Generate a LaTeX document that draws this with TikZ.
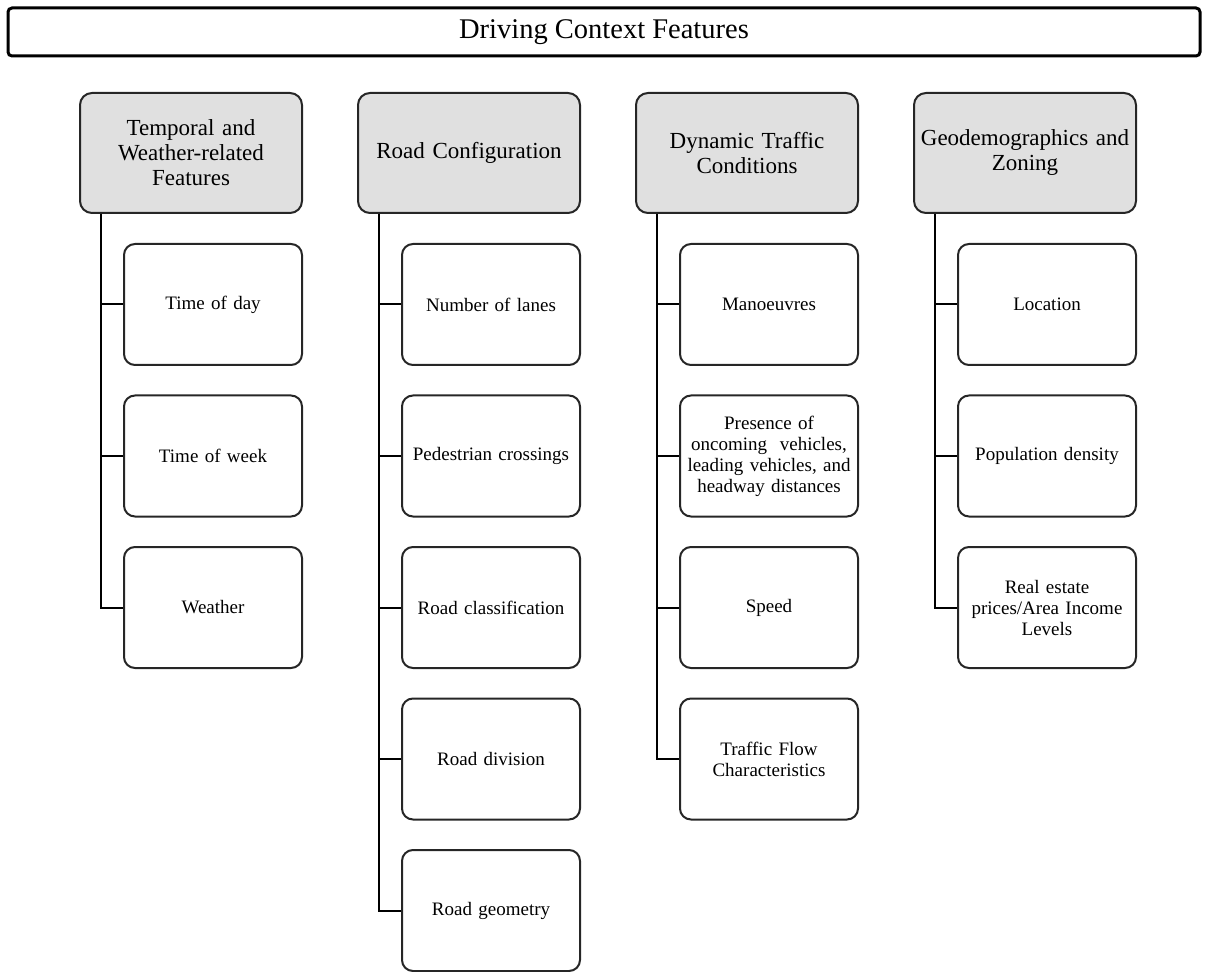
\documentclass[tikz,border=0pt]{standalone}
\usepackage{fontspec}
\setmainfont{Liberation Serif}
\begin{document}
\begin{tikzpicture}[x=0.5pt,y=-0.5pt,
  titlebox/.style={draw=black,line width=1.5pt,rounded corners=2pt,inner sep=0pt,
    minimum width=596pt,minimum height=24pt,font=\fontsize{14.25}{16}\selectfont},
  headbox/.style={draw=black!85,fill=black!12,line width=1pt,rounded corners=6pt,inner sep=0pt,
    minimum width=111pt,minimum height=60pt,align=center,text width=105pt,
    font=\fontsize{11.5}{12.5}\selectfont},
  leafbox/.style={draw=black!85,line width=1pt,rounded corners=5.5pt,inner sep=0pt,
    minimum width=89pt,minimum height=60.5pt,align=center,text width=85pt,
    font=\fontsize{9.5}{10.5}\selectfont},
  link/.style={draw=black,line width=1pt}]
\useasboundingbox (0,0) rectangle (1208,972);

\node[titlebox] (title) at (604,32) {Driving Context Features};

% headers
\node[headbox] (h1) at (191,153) {Temporal and\\Weather-related\\Features};
\node[headbox] (h2) at (469,153) {Road Configuration};
\node[headbox] (h3) at (747,153) {Dynamic Traffic\\Conditions};
\node[headbox] (h4) at (1025,153) {Geodemographics and\\Zoning};

% column 1
\node[leafbox] (a1) at (213,304.5) {Time of day};
\node[leafbox] (a2) at (213,456) {Time of week};
\node[leafbox] (a3) at (213,607.5) {Weather};

% column 2
\node[leafbox] (b1) at (491,304.5) {Number of lanes};
\node[leafbox] (b2) at (491,456) {Pedestrian crossings};
\node[leafbox] (b3) at (491,607.5) {Road classification};
\node[leafbox] (b4) at (491,759) {Road division};
\node[leafbox] (b5) at (491,910.5) {Road geometry};

% column 3
\node[leafbox] (c1) at (769,304.5) {Manoeuvres};
\node[leafbox] (c2) at (769,456) {Presence of\\oncoming\ \ vehicles,\\leading vehicles, and\\headway distances};
\node[leafbox] (c3) at (769,607.5) {Speed};
\node[leafbox] (c4) at (769,759) {Traffic Flow\\Characteristics};

% column 4
\node[leafbox] (d1) at (1047,304.5) {Location};
\node[leafbox] (d2) at (1047,456) {Population density};
\node[leafbox] (d3) at (1047,607.5) {Real estate\\prices/Area Income\\Levels};

% trunks
\coordinate (t1) at ([xshift=11pt]h1.south west);
\coordinate (t2) at ([xshift=11pt]h2.south west);
\coordinate (t3) at ([xshift=11pt]h3.south west);
\coordinate (t4) at ([xshift=11pt]h4.south west);

\foreach \n in {a1,a2,a3} \draw[link] (t1) |- (\n.west);
\foreach \n in {b1,b2,b3,b4,b5} \draw[link] (t2) |- (\n.west);
\foreach \n in {c1,c2,c3,c4} \draw[link] (t3) |- (\n.west);
\foreach \n in {d1,d2,d3} \draw[link] (t4) |- (\n.west);
\end{tikzpicture}
\end{document}
